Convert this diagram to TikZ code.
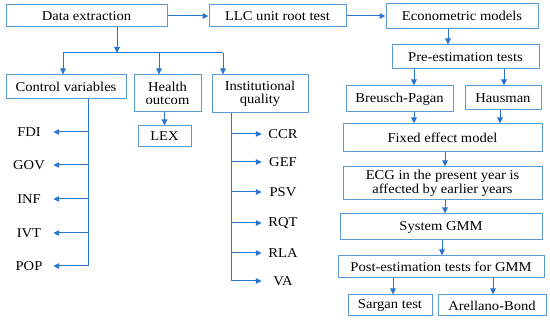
\documentclass[tikz,border=0pt]{standalone}
\usepackage{fontspec}
\setmainfont{Liberation Serif}[FakeStretch=1.08]
\usetikzlibrary{arrows.meta}
\definecolor{boxblue}{RGB}{91,155,213}
\definecolor{arrowblue}{RGB}{40,117,210}

\begin{document}
\begin{tikzpicture}[x=1pt, y=-1pt, >={Triangle[length=6pt,width=5.5pt]},
    box/.style={draw=boxblue, line width=1pt, fill=white, inner sep=0pt, align=center, font=\fontsize{13.5}{13.5}\selectfont},
    leaf/.style={inner sep=0pt, font=\fontsize{13.5}{13.5}\selectfont},
    link/.style={arrowblue, line width=1pt}]
        \useasboundingbox (0,0) rectangle (550,320);
        \node[box, minimum width=161pt, minimum height=22pt] (extract) at (86.5,16) {Data extraction};
        \node[box, minimum width=137pt, minimum height=22pt] (llc) at (277.5,16) {LLC unit root test};
        \node[box, minimum width=152pt, minimum height=25pt] (econ) at (462,16) {Econometric models};
        \node[box, minimum width=120pt, minimum height=24pt] (ctrl) at (66,87) {Control variables};
        \node[box, minimum width=67pt, minimum height=37pt] (health) at (167.5,93.5) {Health\\outcom};
        \node[box, minimum width=96pt, minimum height=38pt] (inst) at (260,94) {Institutional\\quality};
        \node[box, minimum width=53pt, minimum height=21pt] (lex) at (164.5,136.5) {LEX};
        \node[box, minimum width=147pt, minimum height=24pt] (pre) at (465.5,57) {Pre-estimation tests};
        \node[box, minimum width=107pt, minimum height=26pt] (bp) at (399.5,99) {Breusch-Pagan};
        \node[box, minimum width=76pt, minimum height=24pt] (haus) at (503,98) {Hausman};
        \node[box, minimum width=199pt, minimum height=28pt] (fem) at (442.5,138) {Fixed effect model};
        \node[box, minimum width=199pt, minimum height=33pt] (ecg) at (442.5,183.5) {ECG in the present year is\\affected by earlier years};
        \node[box, minimum width=202pt, minimum height=26pt] (gmm) at (441,227) {System GMM};
        \node[box, minimum width=206pt, minimum height=22pt] (post) at (441,267) {Post-estimation tests for GMM};
        \node[box, minimum width=84pt, minimum height=21pt] (sargan) at (390,305.5) {Sargan test};
        \node[box, minimum width=108pt, minimum height=21pt] (ab) at (492,305.5) {Arellano-Bond};

        \draw[link,->] (extract) -- (llc);
        \draw[link,->] (llc) -- (econ);
        \coordinate (split) at (117,53);
        \draw[link,->] (extract.south -| split) -- (split);
        \draw[link] (63,53) -- (223,53);
        \foreach \x/\n in {63/ctrl, 159/health, 223/inst}
          \draw[link,->] (\x,53) -- (\n.north -| \x,0);
        \draw[link,->] (health.south -| lex.north) -- (lex.north);

        \draw[link] (ctrl.south -| 88,0) -- (88,266);
        \foreach \n/\t/\y in {fdi/FDI/132, gov/GOV/165, inf/INF/199, ivt/IVT/233, pop/POP/266}
          {\node[leaf, minimum width=48pt] (\n) at (29,\y) {\t}; \draw[link,->] (88,\y) -- (\n.east);}
        \draw[link] (inst.south -| 231,0) -- (231,281);
        \foreach \n/\t/\y in {ccr/CCR/134, gef/GEF/162, psv/PSV/192, rqt/RQT/223, rla/RLA/253, va/VA/281}
          {\node[leaf, minimum width=42pt] (\n) at (283,\y) {\t}; \draw[link,->] (231,\y) -- (\n.west);}

        \foreach \a/\b/\x in {econ/pre/448, pre/bp/414, pre/haus/504, bp/fem/414, haus/fem/500,
            fem/ecg/445, ecg/gmm/445, gmm/post/442, post/sargan/393, post/ab/493}
          \draw[link,->] (\a.south -| \x,0) -- (\b.north -| \x,0);
      \end{tikzpicture}
\end{document}
